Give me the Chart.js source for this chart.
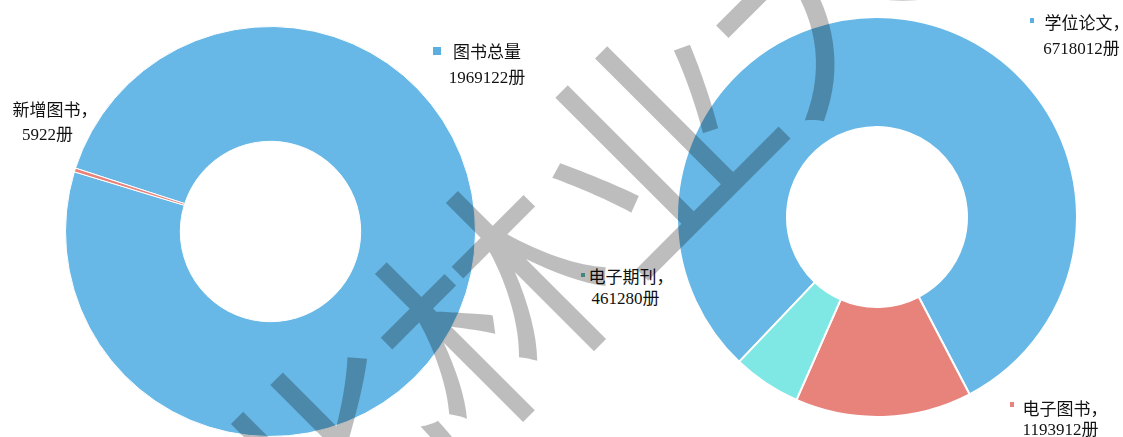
<!DOCTYPE html>
<html>
<head>
<meta charset="utf-8">
<script src="https://cdn.jsdelivr.net/npm/chart.js@4/dist/chart.umd.min.js"></script>
<style>
  html, body { margin: 0; padding: 0; background: #ffffff; overflow: hidden; }
  body { width: 1123px; height: 437px; position: relative; }
  .wrap { position: absolute; }
  .lbl { position: absolute; white-space: nowrap; transform: translate(-50%, -50%);
         font-family: "Liberation Sans Narrow", "Liberation Serif", "Noto Sans CJK SC", sans-serif;
         font-size: 17px; color: #111; line-height: 1; }
  .mk { position: absolute; }
  #wm { position: absolute; white-space: nowrap; pointer-events: none;
        font-family: "Noto Sans CJK SC", sans-serif; font-size: 228px; line-height: 1;
        color: rgba(0,0,0,0.26); transform: translate(-50%, -50%) rotate(-45deg); }
</style>
</head>
<body>
<div class="wrap" id="w1"><canvas id="c1"></canvas></div>
<div class="wrap" id="w2"><canvas id="c2"></canvas></div>
<div id="labels"></div>
<div id="wm"></div>
<script>
// ---- data ----
const leftCategories = ['图书总量', '新增图书'];
const leftValues = [1969122, 5922];
const rightCategories = ['学位论文', '电子图书', '电子期刊'];
const rightValues = [6718012, 1193912, 461280];
const unit = '册';
const watermarkText = '东北林业大学';

// ---- styles / layout ----
const leftColors = ['#67b8e6', '#e8837c'];
const rightColors = ['#67b8e6', '#e8837c', '#80e8e4'];
const markerColors = { '图书总量': '#5aaee0', '学位论文': '#5aaee0', '电子图书': '#e8837c', '电子期刊': '#5bb5ad' };

function makeDonut(canvasId, wrapId, cx, cy, r, cutoutPct, rotation, cats, vals, colors, bw) {
  const size = 2 * r + bw;
  const wrap = document.getElementById(wrapId);
  wrap.style.left = (cx - size / 2) + 'px';
  wrap.style.top = (cy - size / 2) + 'px';
  const cv = document.getElementById(canvasId);
  cv.width = size; cv.height = size;
  cv.style.width = size + 'px'; cv.style.height = size + 'px';
  return new Chart(cv, {
    type: 'doughnut',
    data: { labels: cats, datasets: [{ data: vals, backgroundColor: colors, borderColor: '#ffffff',
            borderWidth: bw, hoverOffset: 0, offset: 0 }] },
    options: {
      responsive: false, maintainAspectRatio: false, animation: false,
      cutout: cutoutPct, rotation: rotation,
      layout: { padding: 0 },
      plugins: { legend: { display: false }, tooltip: { enabled: false } },
      events: []
    }
  });
}

makeDonut('c1', 'w1', 270, 231, 205, '44%', -72, leftCategories, leftValues, leftColors, 1);
makeDonut('c2', 'w2', 877, 217, 200, '45%', -136.4, rightCategories, rightValues, rightColors, 2);

// ---- labels ----
const labelDefs = [
  { name: leftCategories[0], value: leftValues[0], comma: false, x1: 487, y1: 52, x2: 487, y2: 77, mk: [433, 47, 8, 8] },
  { name: leftCategories[1], value: leftValues[1], comma: true, x1: 55, y1: 110, x2: 47.5, y2: 134, mk: null },
  { name: rightCategories[0], value: rightValues[0], comma: true, x1: 1087, y1: 23, x2: 1081.5, y2: 48, mk: [1030, 18, 4, 5] },
  { name: rightCategories[1], value: rightValues[1], comma: true, x1: 1065, y1: 409, x2: 1060.5, y2: 429, mk: [1010, 402, 4, 5] },
  { name: rightCategories[2], value: rightValues[2], comma: true, x1: 631, y1: 277, x2: 625.5, y2: 298, mk: [580.5, 272.5, 4, 4] }
];
const lab = document.getElementById('labels');
labelDefs.forEach(d => {
  const a = document.createElement('div');
  a.className = 'lbl'; a.textContent = d.name + (d.comma ? '，' : '');
  a.style.left = d.x1 + 'px'; a.style.top = d.y1 + 'px';
  lab.appendChild(a);
  const b = document.createElement('div');
  b.className = 'lbl'; b.textContent = d.value + unit;
  b.style.left = d.x2 + 'px'; b.style.top = d.y2 + 'px';
  lab.appendChild(b);
  if (d.mk) {
    const m = document.createElement('div');
    m.className = 'mk';
    m.style.left = d.mk[0] + 'px'; m.style.top = d.mk[1] + 'px';
    m.style.width = d.mk[2] + 'px'; m.style.height = d.mk[3] + 'px';
    m.style.background = markerColors[d.name];
    lab.appendChild(m);
  }
});

// ---- watermark ----
const wm = document.getElementById('wm');
wm.textContent = watermarkText;
wm.style.left = '564px'; wm.style.top = '216px';
</script>
</body>
</html>
